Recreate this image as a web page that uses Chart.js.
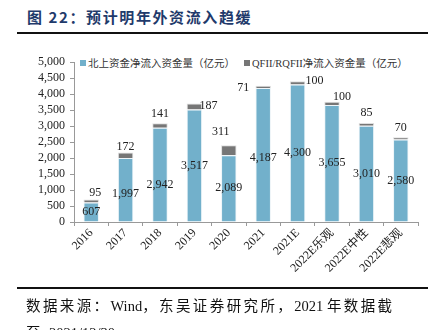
<!DOCTYPE html>
<html>
<head>
<meta charset="utf-8">
<script src="https://cdn.jsdelivr.net/npm/chart.js@4"></script>
<style>
  body { margin: 0; width: 443px; height: 330px; overflow: hidden; background: #fff; position: relative; }
  .title { position: absolute; left: 27px; top: 6px; font: bold 15px "Noto Sans CJK SC", sans-serif; color: #1f3a6b; letter-spacing: 1.6px; }
  .rule { position: absolute; left: 17px; width: 411px; height: 2px; background: #111; }
  .legend { position: absolute; top: 55px; font: 10.5px "Liberation Serif", "Noto Sans CJK SC", serif; color: #333; white-space: nowrap; }
  .legend i { display: inline-block; width: 6px; height: 6px; margin-right: 2px; vertical-align: 1px; }
  .src { position: absolute; left: 26px; font: 14.5px "Liberation Serif", "Noto Sans CJK SC", serif; color: #111; white-space: nowrap; letter-spacing: 2.4px; }
  .src b { font-weight: normal; letter-spacing: 0; }
  #wrap { position: absolute; left: 0; top: 0; width: 443px; height: 290px; }
</style>
</head>
<body>
<div class="title">图 22：预计明年外资流入趋缓</div>
<div class="rule" style="top:32px"></div>
<div class="legend" style="left:80px"><i style="background:#72b0cb"></i>北上资金净流入资金量（亿元）</div>
<div class="legend" style="left:244px"><i style="background:#767676"></i>QFII/RQFII净流入资金量（亿元）</div>
<div id="wrap"><canvas id="myChart"></canvas></div>
<div class="rule" style="top:287px"></div>
<div class="src" style="top:294px">数据来源：<b>Wind</b>，东吴证券研究所，<b>2021 </b>年数据截</div>
<div class="src" style="top:321px">至 <b>2021/12/30</b></div>
<script>
// categories and values
const years = ["2016", "2017", "2018", "2019", "2020", "2021", "2021E", "2022E乐观", "2022E中性", "2022E悲观"];
const northbound = [607, 1997, 2942, 3517, 2089, 4187, 4300, 3655, 3010, 2580];
const qfii = [95, 172, 141, 187, 311, 71, 100, 100, 85, 70];

// nudges for the value labels (px) so they sit where the original ones do
const northShiftY = [0, 4, 10, 0, 0, 3, 0, 0, 0, 0];
const qfiiShiftX = [4, 0, 0, 14, -8, -20, 17, 10, 0, 0];
const qfiiShiftY = [7, 6, 10, -2, 13, -2, 0, 5, 10, 9];

const valueLabels = {
    id: 'valueLabels',
    afterDatasetsDraw(chart) {
        const ctx = chart.ctx;
        ctx.save();
        ctx.font = '12px "Liberation Serif", serif';
        ctx.fillStyle = '#222';
        ctx.textAlign = 'center';
        ctx.textBaseline = 'middle';
        const blue = chart.getDatasetMeta(0).data;
        const grey = chart.getDatasetMeta(1).data;
        blue.forEach((bar, i) => {
            ctx.fillText(northbound[i].toLocaleString('en-US'), bar.x, (bar.y + bar.base) / 2 + northShiftY[i]);
        });
        grey.forEach((bar, i) => {
            ctx.fillText(qfii[i], bar.x + qfiiShiftX[i], bar.y - qfiiShiftY[i]);
        });
        ctx.restore();
    }
};

const ctx = document.getElementById('myChart').getContext('2d');
const myChart = new Chart(ctx, {
    type: 'bar',
    data: {
        labels: years,
        datasets: [{
            label: '北上资金净流入资金量（亿元）',
            data: northbound,
            backgroundColor: '#72b0cb',
            borderColor: 'rgba(235,243,247,0.9)',
            borderWidth: 1,
            barPercentage: 0.45,
            categoryPercentage: 1
        }, {
            label: 'QFII/RQFII净流入资金量（亿元）',
            data: qfii,
            backgroundColor: '#767676',
            borderColor: 'rgba(220,220,220,0.9)',
            borderWidth: 1,
            barPercentage: 0.45,
            categoryPercentage: 1
        }]
    },
    options: {
        responsive: true,
        maintainAspectRatio: false,
        animation: false,
        layout: { padding: { top: 62, right: 25, left: 0, bottom: 0 } },
        plugins: { legend: { display: false }, tooltip: { enabled: false } },
        scales: {
            x: {
                stacked: true,
                grid: { drawOnChartArea: false, color: '#999', tickLength: 4 },
                border: { color: '#999' },
                ticks: {
                    color: '#222',
                    font: { family: '"Liberation Serif", "Noto Sans CJK SC", serif', size: 12 },
                    maxRotation: 45,
                    minRotation: 45,
                    padding: 0
                },
                afterFit: function(scale) { scale.height = 68; }
            },
            y: {
                stacked: true,
                min: 0,
                max: 5000,
                grid: { drawOnChartArea: false, color: '#999', tickLength: 4 },
                border: { color: '#999' },
                ticks: {
                    stepSize: 500,
                    autoSkip: false,
                    color: '#222',
                    padding: 5,
                    font: { family: '"Liberation Serif", serif', size: 12 },
                    callback: value => value.toLocaleString('en-US')
                },
                afterFit: function(scale) { scale.width = 74; }
            }
        }
    },
    plugins: [valueLabels]
});
</script>
</body>
</html>
